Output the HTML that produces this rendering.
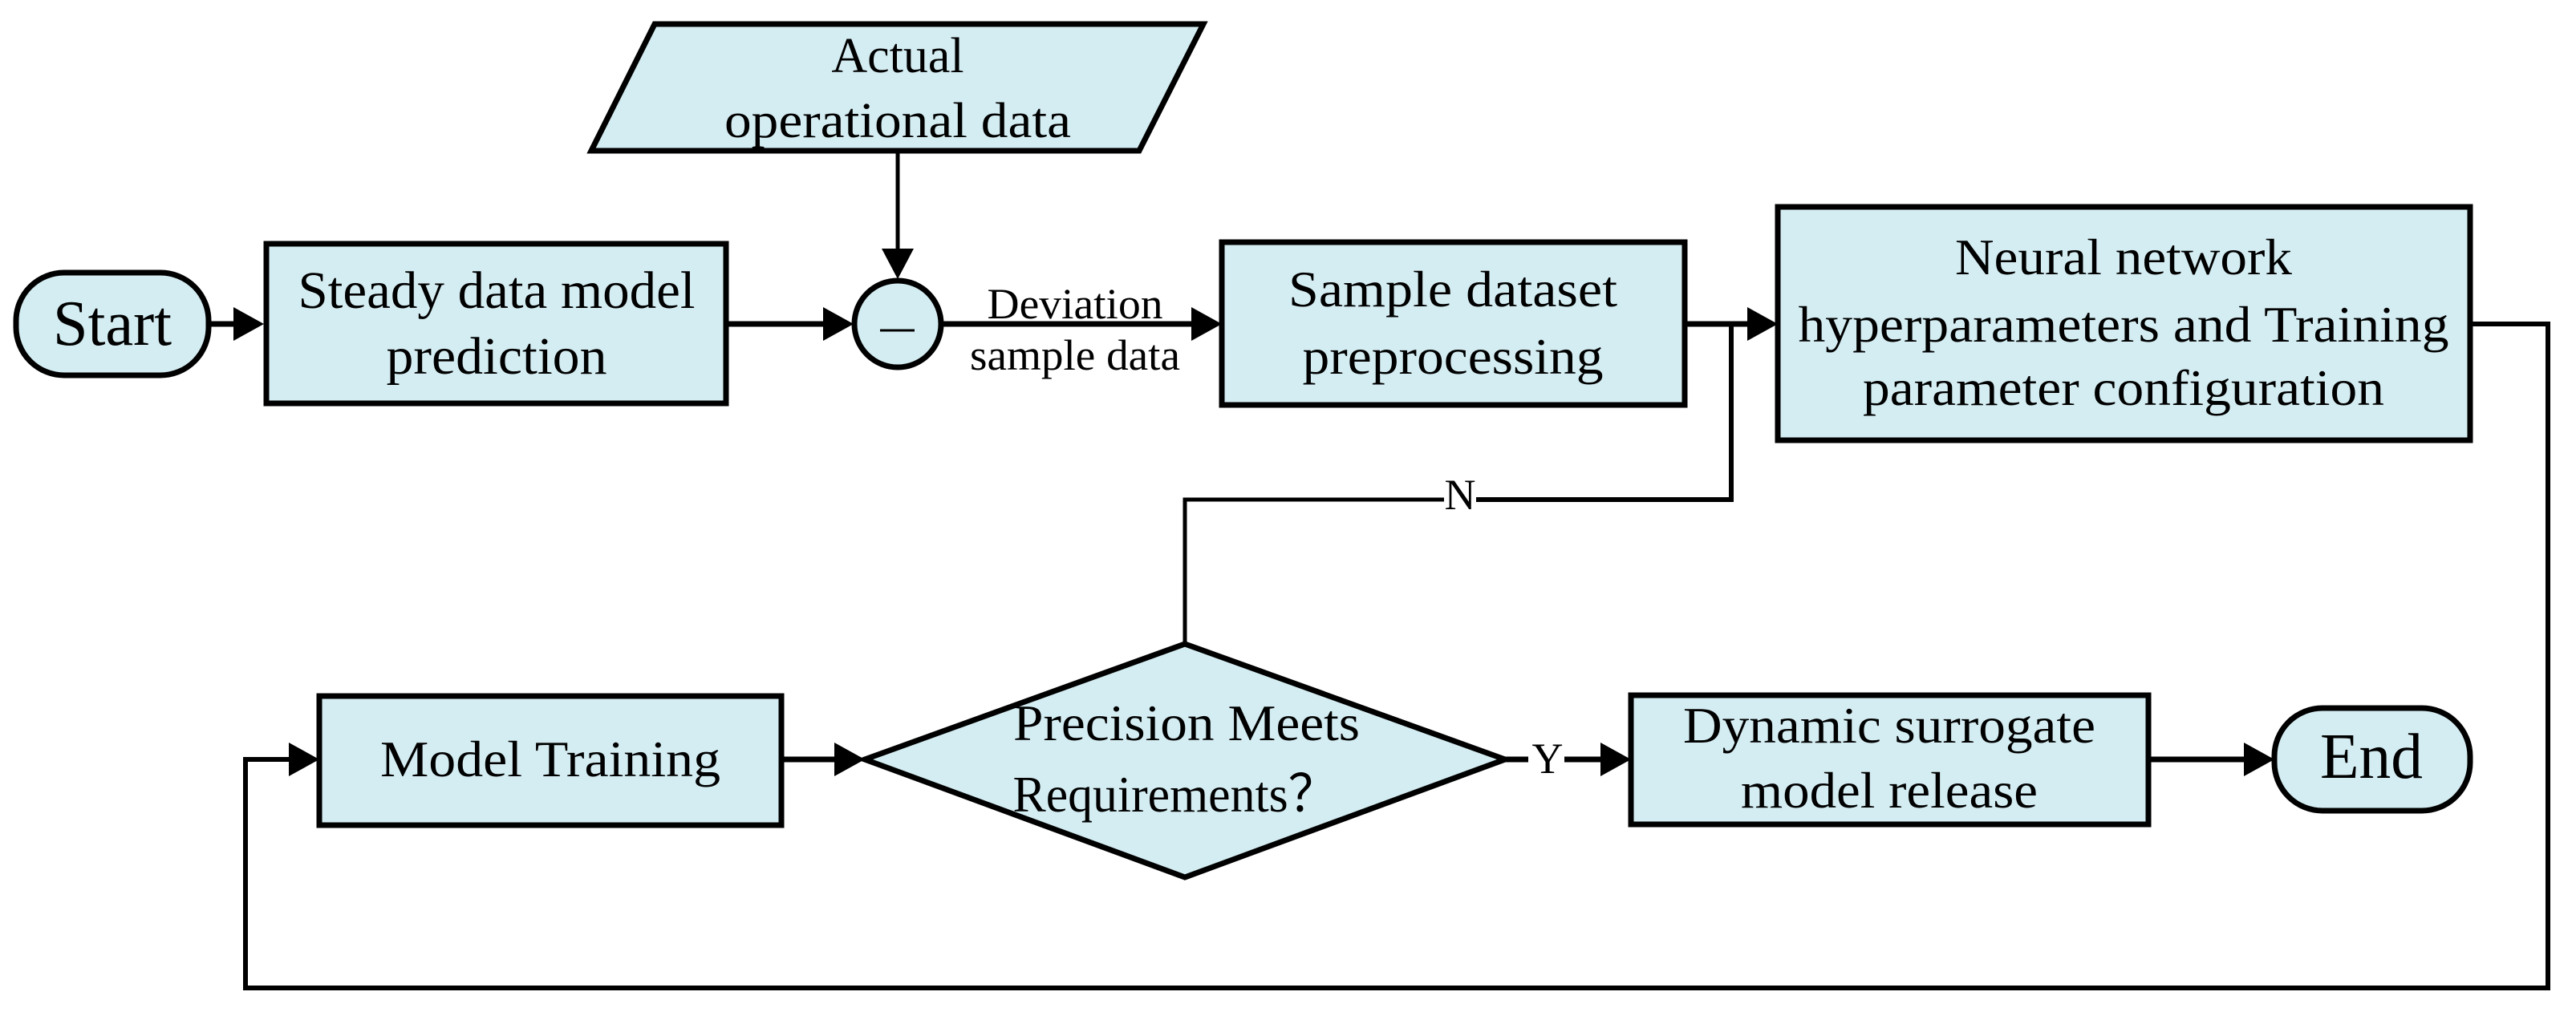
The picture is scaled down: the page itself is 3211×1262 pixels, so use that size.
<!DOCTYPE html>
<html><head><meta charset="utf-8"><style>html,body{margin:0;padding:0;background:#fff}svg{display:block}</style></head>
<body>
<svg width="3211" height="1262" viewBox="0 0 3211 1262" xmlns="http://www.w3.org/2000/svg" font-family="'Liberation Serif', serif" fill="#000">
<g fill="#d4edf2" stroke="#000" stroke-width="7">
<polygon points="816,30 1500,30 1420,188 737,188"/>
<rect x="20" y="340" width="240" height="128" rx="60" ry="60"/>
<rect x="332" y="304" width="573" height="199"/>
<circle cx="1119" cy="404" r="54"/>
<rect x="1523" y="302" width="577" height="203"/>
<rect x="2216" y="258" width="863" height="291"/>
<rect x="398" y="868" width="576" height="161"/>
<polygon points="1477,803 1876,947 1477,1094 1078,947"/>
<rect x="2033" y="867" width="645" height="161"/>
<rect x="2835" y="883" width="244" height="128" rx="60" ry="60"/>
</g>
<g stroke="#000" fill="none">
<line x1="1119" y1="188" x2="1119" y2="312" stroke-width="5"/>
<line x1="260" y1="404" x2="295" y2="404" stroke-width="7"/>
<line x1="905" y1="404" x2="1030" y2="404" stroke-width="7"/>
<line x1="1173" y1="404" x2="1490" y2="404" stroke-width="7"/>
<line x1="2100" y1="404" x2="2185" y2="404" stroke-width="7"/>
<polyline points="2158,404 2158,623 1840,623" stroke-width="6"/>
<polyline points="1800,623 1477,623 1477,803" stroke-width="5"/>
<polyline points="3079,404 3176,404 3176,1232 306,1232 306,947 365,947" stroke-width="6"/>
<line x1="974" y1="947" x2="1045" y2="947" stroke-width="7"/>
<line x1="1876" y1="947" x2="1905" y2="947" stroke-width="7"/>
<line x1="1950" y1="947" x2="2000" y2="947" stroke-width="7"/>
<line x1="2678" y1="947" x2="2800" y2="947" stroke-width="7"/>
<line x1="1097" y1="412" x2="1140" y2="412" stroke-width="3"/>
</g>
<g fill="#000">
<polygon points="1099,310 1139,310 1119,348"/>
<polygon points="291,383 291,425 329,404"/>
<polygon points="1026,383 1026,425 1064,404"/>
<polygon points="1485,383 1485,425 1523,404"/>
<polygon points="2178,383 2178,425 2216,404"/>
<polygon points="360,926 360,968 398,947"/>
<polygon points="1040,926 1040,968 1078,947"/>
<polygon points="1995,926 1995,968 2033,947"/>
<polygon points="2797,926 2797,968 2835,947"/>
</g>
<g font-size="60" text-anchor="middle">
<text x="1119" y="90" font-size="62">Actual</text>
<text x="1119" y="171" font-size="62" textLength="432" lengthAdjust="spacingAndGlyphs">operational data</text>
<text x="140" y="430" font-size="80" textLength="148" lengthAdjust="spacingAndGlyphs">Start</text>
<text x="619" y="384" font-size="66" textLength="495" lengthAdjust="spacingAndGlyphs">Steady data model</text>
<text x="619" y="466" font-size="66" textLength="275" lengthAdjust="spacingAndGlyphs">prediction</text>
<text x="1340" y="397" font-size="54" textLength="219" lengthAdjust="spacingAndGlyphs">Deviation</text>
<text x="1340" y="461" font-size="54" textLength="262" lengthAdjust="spacingAndGlyphs">sample data</text>
<text x="1811" y="382" font-size="64" textLength="410" lengthAdjust="spacingAndGlyphs">Sample dataset</text>
<text x="1811" y="466" font-size="64" textLength="375" lengthAdjust="spacingAndGlyphs">preprocessing</text>
<text x="2647" y="342" font-size="64" textLength="420" lengthAdjust="spacingAndGlyphs">Neural network</text>
<text x="2647" y="426" font-size="64" textLength="811" lengthAdjust="spacingAndGlyphs">hyperparameters and Training</text>
<text x="2647" y="505" font-size="64" textLength="650" lengthAdjust="spacingAndGlyphs">parameter configuration</text>
<text x="1820" y="635" font-size="54">N</text>
<text x="686" y="968" font-size="64" textLength="424" lengthAdjust="spacingAndGlyphs">Model Training</text>
<text x="1479" y="923" font-size="64" textLength="432" lengthAdjust="spacingAndGlyphs">Precision Meets</text>
<text x="1465" y="1012" font-size="64" textLength="405" lengthAdjust="spacingAndGlyphs">Requirements？</text>
<text x="1929" y="964" font-size="54">Y</text>
<text x="2355" y="926" font-size="64" textLength="514" lengthAdjust="spacingAndGlyphs">Dynamic surrogate</text>
<text x="2355" y="1007" font-size="64" textLength="370" lengthAdjust="spacingAndGlyphs">model release</text>
<text x="2956" y="970" font-size="80" textLength="128" lengthAdjust="spacingAndGlyphs">End</text>
</g>
</svg>
</body></html>
